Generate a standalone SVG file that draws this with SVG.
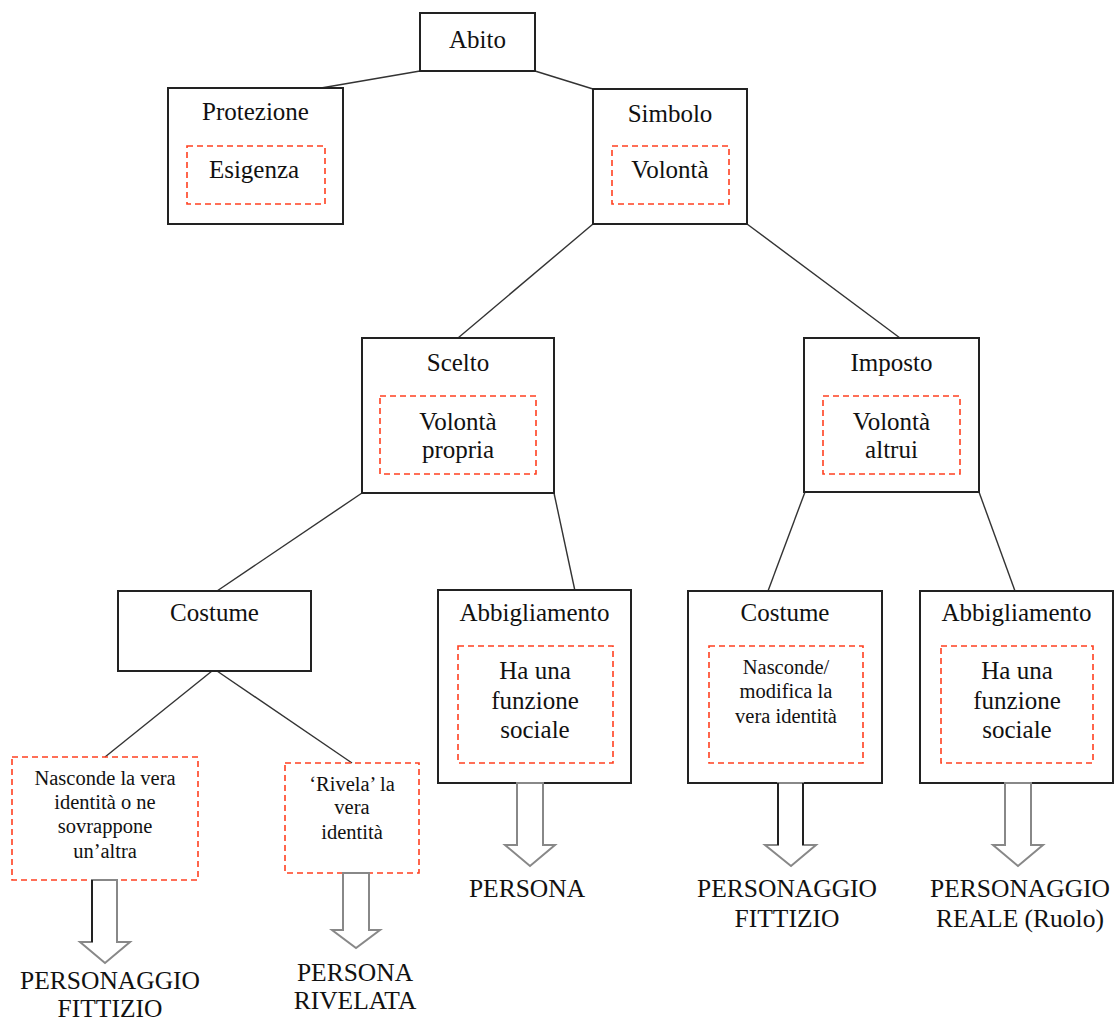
<svg xmlns="http://www.w3.org/2000/svg" width="1115" height="1024" viewBox="0 0 1115 1024">
<style>
.box{fill:#fff;stroke:#222;stroke-width:2}
.dash{fill:none;stroke:#ff4020;stroke-width:1.6;stroke-dasharray:6 4}
.t{font-family:'Liberation Serif','Times New Roman',serif;font-size:25px;fill:#111;text-anchor:middle}
.s{font-family:'Liberation Serif','Times New Roman',serif;font-size:20.5px;fill:#111;text-anchor:middle}
.b{font-family:'Liberation Serif','Times New Roman',serif;font-size:25.5px;fill:#111;text-anchor:middle}
.conn line{stroke:#333;stroke-width:1.4}
.arr{fill:#fff;stroke:#888;stroke-width:2}
.blk{stroke:#222;stroke-width:2}
</style>
<rect width="1115" height="1024" fill="#fff"/>
<g id="connectors" class="conn">
<line x1="420" y1="71" x2="321" y2="88"/>
<line x1="535" y1="71" x2="593" y2="89"/>
<line x1="593" y1="224" x2="458" y2="338"/>
<line x1="747" y1="224" x2="900" y2="338"/>
<line x1="362" y1="493" x2="217" y2="591"/>
<line x1="554" y1="493" x2="575" y2="591"/>
<line x1="805" y1="492" x2="768" y2="591"/>
<line x1="979" y1="492" x2="1015" y2="591"/>
<line x1="212" y1="671" x2="105" y2="757"/>
<line x1="217" y1="671" x2="352" y2="763"/>
</g>
<g id="abito">
<rect class="box" x="420" y="13" width="115" height="58"/>
<text class="t" x="477.5" y="48">Abito</text>
</g>
<g id="protezione">
<rect class="box" x="168" y="88" width="175" height="136"/>
<text class="t" x="255.5" y="120">Protezione</text>
<rect class="dash" x="187" y="146" width="138" height="58"/>
<text class="t" x="254" y="178">Esigenza</text>
</g>
<g id="simbolo">
<rect class="box" x="593" y="89" width="154" height="135"/>
<text class="t" x="670" y="122">Simbolo</text>
<rect class="dash" x="612" y="146" width="117" height="58"/>
<text class="t" x="670" y="178">Volontà</text>
</g>
<g id="scelto">
<rect class="box" x="362" y="338" width="192" height="155"/>
<text class="t" x="458" y="371">Scelto</text>
<rect class="dash" x="380" y="396" width="156" height="78"/>
<text class="t" x="458" y="430">Volontà</text>
<text class="t" x="458" y="458">propria</text>
</g>
<g id="imposto">
<rect class="box" x="804" y="338" width="175" height="154"/>
<text class="t" x="891.5" y="371">Imposto</text>
<rect class="dash" x="823" y="396" width="137" height="78"/>
<text class="t" x="891.5" y="430">Volontà</text>
<text class="t" x="891.5" y="458">altrui</text>
</g>
<g id="costume-scelto">
<rect class="box" x="118" y="591" width="193" height="80"/>
<text class="t" x="214.5" y="621">Costume</text>
</g>
<g id="abbigliamento-scelto">
<rect class="box" x="438" y="590" width="193" height="193"/>
<text class="t" x="534.5" y="621">Abbigliamento</text>
<rect class="dash" x="458" y="646" width="155" height="117"/>
<text class="t" x="535" y="679">Ha una</text>
<text class="t" x="535" y="709">funzione</text>
<text class="t" x="535" y="738">sociale</text>
</g>
<g id="costume-imposto">
<rect class="box" x="688" y="591" width="194" height="192"/>
<text class="t" x="785" y="621">Costume</text>
<rect class="dash" x="709" y="646" width="154" height="117"/>
<text class="s" x="786" y="674">Nasconde/</text>
<text class="s" x="786" y="698">modifica la</text>
<text class="s" x="786" y="723">vera identità</text>
</g>
<g id="abbigliamento-imposto">
<rect class="box" x="920" y="591" width="193" height="192"/>
<text class="t" x="1016.5" y="621">Abbigliamento</text>
<rect class="dash" x="941" y="646" width="152" height="117"/>
<text class="t" x="1017" y="679">Ha una</text>
<text class="t" x="1017" y="709">funzione</text>
<text class="t" x="1017" y="738">sociale</text>
</g>
<g id="nasconde">
<rect class="dash" x="12" y="757" width="186" height="123"/>
<text class="s" x="105" y="785">Nasconde la vera</text>
<text class="s" x="105" y="809">identità o ne</text>
<text class="s" x="105" y="833">sovrappone</text>
<text class="s" x="105" y="858">un’altra</text>
</g>
<g id="rivela">
<rect class="dash" x="285" y="763" width="134" height="110"/>
<text class="s" x="352" y="791">‘Rivela’ la</text>
<text class="s" x="352" y="814">vera</text>
<text class="s" x="352" y="839">identità</text>
</g>
<g id="arrow-1">
<polygon class="arr" points="92,880 117,880 117,942 130,942 105,963 80,942 92,942"/>
<line class="blk" x1="92" y1="880" x2="92" y2="942"/>
</g>
<g id="arrow-2">
<polygon class="arr" points="343,873 369,873 369,930 380,930 356,948 332,930 343,930"/>
</g>
<g id="arrow-3">
<polygon class="arr" points="517,783 543,783 543,845 555,845 530,866 505,845 517,845"/>
</g>
<g id="arrow-4">
<polygon class="arr" points="778,783 803,783 803,845 816,845 791,866 765,845 778,845"/>
<line class="blk" x1="778" y1="783" x2="778" y2="845"/>
<line class="blk" x1="803" y1="783" x2="803" y2="845"/>
</g>
<g id="arrow-5">
<polygon class="arr" points="1005,783 1031,783 1031,845 1043,845 1018,866 993,845 1005,845"/>
</g>
<g id="label-personaggio-fittizio-1">
<text class="b" x="110" y="989">PERSONAGGIO</text>
<text class="b" x="110" y="1017">FITTIZIO</text>
</g>
<g id="label-persona-rivelata">
<text class="b" x="355" y="981">PERSONA</text>
<text class="b" x="355" y="1009">RIVELATA</text>
</g>
<g id="label-persona">
<text class="b" x="527" y="897">PERSONA</text>
</g>
<g id="label-personaggio-fittizio-2">
<text class="b" x="787" y="897">PERSONAGGIO</text>
<text class="b" x="787" y="927">FITTIZIO</text>
</g>
<g id="label-personaggio-reale">
<text class="b" x="1020" y="897">PERSONAGGIO</text>
<text class="b" x="1020" y="927">REALE (Ruolo)</text>
</g>
</svg>
